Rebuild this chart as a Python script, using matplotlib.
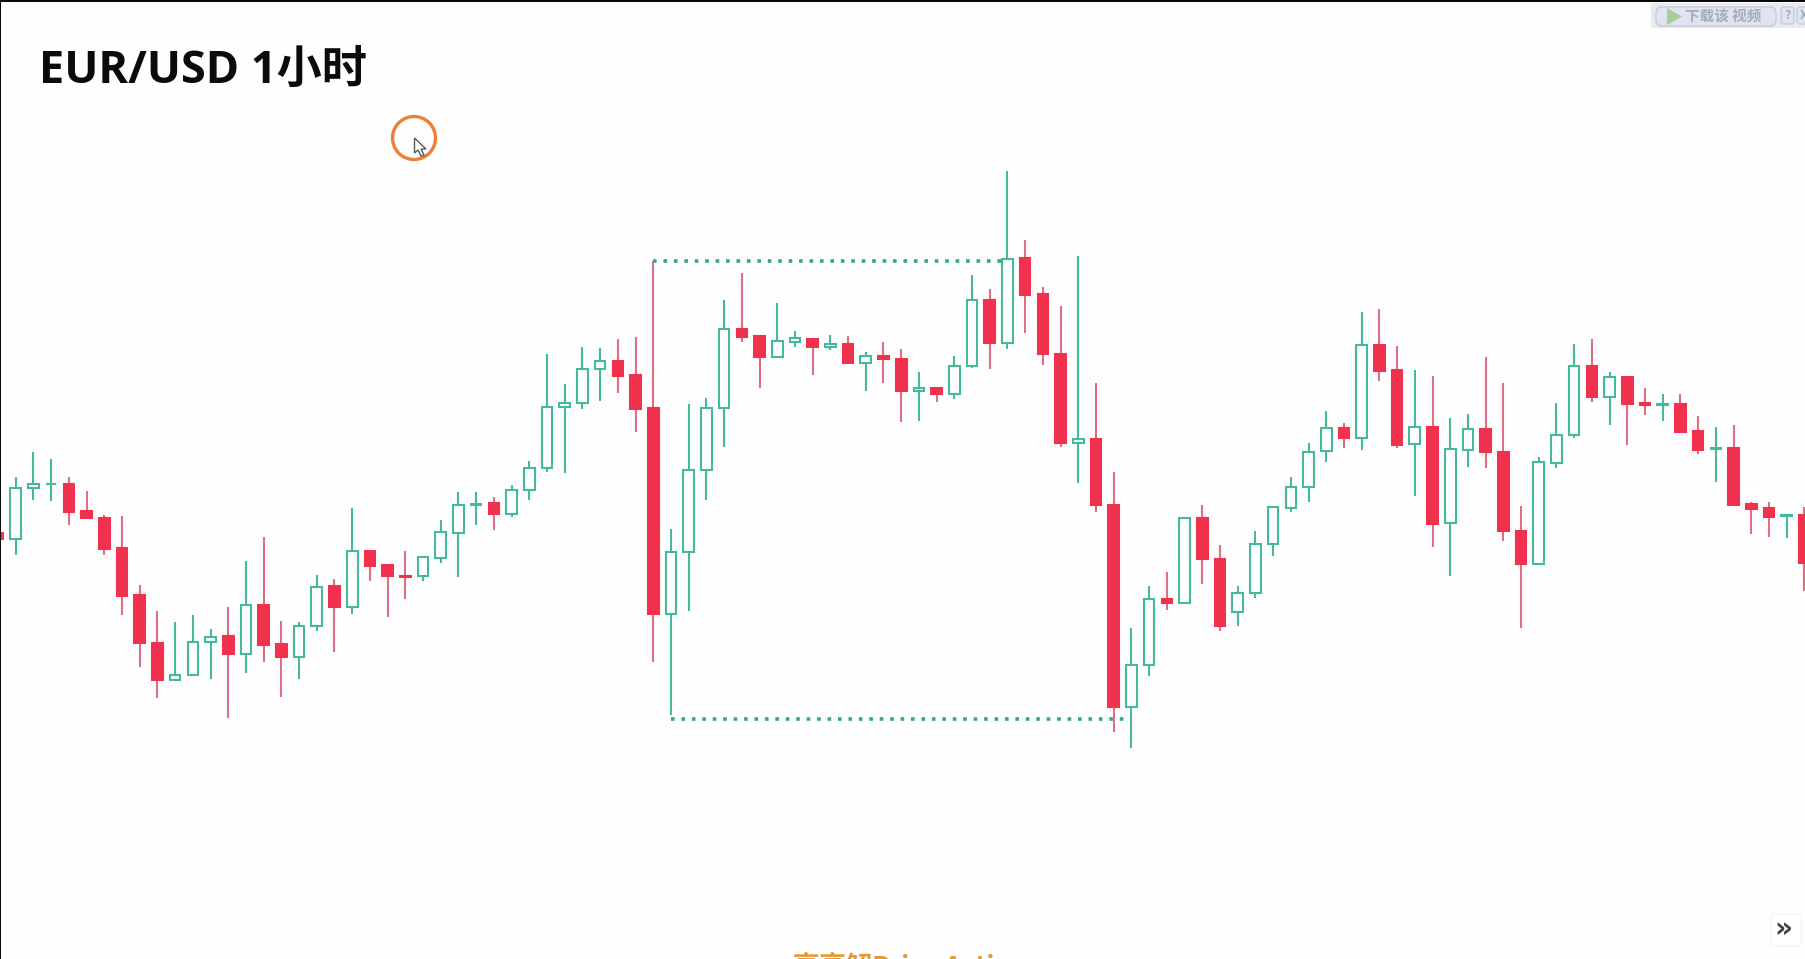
import numpy as np
import matplotlib.pyplot as plt
from matplotlib.patches import Circle, FancyBboxPatch, Polygon, Rectangle

plt.rcParams['font.family'] = ['Noto Sans CJK SC', 'DejaVu Sans']

# Candle values (price in pips above an arbitrary base)
opens = [467, 461, 512, 516, 516, 489, 482, 452, 405, 357, 320, 325, 358, 364, 346, 395, 356, 343, 374, 414,
         393, 449, 435, 424, 424, 442, 467, 495.5, 497, 486, 510, 532, 593, 597, 631, 639, 625, 592, 386, 448,
         530, 592, 671, 664, 643, 658, 661, 653, 656, 637, 644, 641, 609, 612, 606, 634, 700, 657, 742, 706,
         646, 557, 561, 495, 293, 335, 401, 397, 482, 441, 388, 407, 456, 492, 513, 549, 572, 562, 655, 630,
         556, 573, 477, 550, 571, 548, 469, 436, 537, 565, 634, 603, 623, 597, 595, 596, 569, 551, 552, 496,
         492, 484, 485]
highs = [467, 523, 548, 541, 523, 509, 485, 484, 415, 389, 378, 385, 371, 393, 439, 463, 379, 378, 425, 421,
         492, 449, 435, 449, 444, 480, 508, 508, 503, 515, 539, 646, 616, 653, 652, 661, 663, 739, 471, 596,
         602, 700, 727, 664, 697, 669, 661, 665, 664, 648, 658, 651, 628, 613, 644, 725, 711, 829, 760, 713,
         694, 744, 617, 528, 372, 414, 428, 483, 495, 455, 414, 469, 494, 523, 557, 589, 577, 688, 691, 654,
         630, 624, 582, 586, 643, 617, 494, 543, 597, 656, 661, 628, 623, 612, 606, 606, 584, 573, 575, 498,
         498, 485, 493]
lows = [461, 445, 500, 499, 475, 482, 445, 385, 333, 302, 320, 325, 321, 282, 327, 338, 303, 321, 369, 348,
        386, 419, 383, 401, 419, 437, 423, 475, 470, 483, 500, 528, 527, 591, 599, 607, 568, 338, 285, 389,
        500, 553, 658, 612, 642, 653, 625, 650, 637, 609, 617, 578, 579, 598, 601, 632, 631, 651, 667, 635,
        553, 517, 488, 268, 252, 324, 390, 396, 416, 369, 374, 402, 444, 488, 498, 538, 552, 550, 619, 552,
        504, 453, 424, 533, 532, 459, 372, 436, 532, 562, 598, 575, 555, 585, 579, 568, 546, 518, 495, 466,
        463, 462, 409]
closes = [461, 512, 516, 516.5, 488, 482, 451, 404, 357, 320, 325, 358, 363, 346, 395, 355, 343, 374, 413, 393,
          449, 434, 424, 423.5, 443, 468, 495, 496, 486, 510, 532, 593, 597, 631, 639, 624, 591, 386, 448, 530,
          592, 671, 663, 643, 659, 662, 653, 656, 637, 644, 641, 609, 612, 606, 634, 700, 657, 741, 705, 646,
          557, 561, 495, 293, 335, 401, 397, 482, 441, 374, 407, 456, 493, 513, 548, 572, 562, 655, 629, 555,
          573, 476, 551, 571, 548, 469, 436, 538, 565, 634, 603, 623, 596, 595, 596, 568, 550, 552, 495, 491,
          483, 485, 437]

# Dotted range lines: level, first candle, last candle
range_high = 739
range_high_span = [37, 56.7]
range_low = 281
range_low_span = [38, 64]

title = 'EUR/USD 1小时'
caption = '亮亮解Price Action'
button_label = '下载该 视频'

GREEN = '#45b99d'
RED = '#f1324e'
RED_WICK = '#df6f84'
BG = '#fefefe'

fig = plt.figure(figsize=(18.06, 9.59), dpi=100, facecolor=BG)

# Main chart: no axes at all in the picture
ax = fig.add_axes([0, 0, 1, 1])
ax.set_xlim(0.1125, 102.09)
ax.set_ylim(41, 1000)
ax.axis('off')

idx = np.arange(len(opens))
o = np.array(opens, dtype=float)
h = np.array(highs, dtype=float)
l = np.array(lows, dtype=float)
c = np.array(closes, dtype=float)
up = c >= o

ax.vlines(idx[up], l[up], h[up], color=GREEN, linewidth=1.5, zorder=2)
ax.vlines(idx[~up], l[~up], h[~up], color=RED_WICK, linewidth=1.5, zorder=2)
ax.bar(idx[up], (c - o)[up], bottom=o[up], width=0.6, facecolor='white',
       edgecolor=GREEN, linewidth=1.5, zorder=3)
ax.bar(idx[~up], (c - o)[~up], bottom=o[~up], width=0.6, facecolor=RED,
       edgecolor=RED, linewidth=1.5, zorder=3)

dots = (0, (1, 1.89))
ax.plot(range_high_span, [range_high, range_high], color='#2fa98a', linewidth=2.6,
        linestyle=dots, zorder=1)
ax.plot(range_low_span, [range_low, range_low], color='#2fa98a', linewidth=2.6,
        linestyle=dots, zorder=1)

# Screen furniture of the video, placed in pixels
ov = fig.add_axes([0, 0, 1, 1], facecolor='none')
ov.set_xlim(0, 1806)
ov.set_ylim(959, 0)
ov.axis('off')

ov.add_patch(Rectangle((0, 0), 1806, 2, color='#0a0a0a', lw=0))
ov.add_patch(Rectangle((0, 0), 1.2, 959, color='#0a0a0a', lw=0))

ov.text(39, 83, title, fontsize=32.5, fontweight='bold', color='#0b0b0b',
        family=['Open Sans', 'Noto Sans CJK SC'], va='baseline')

# recording cursor
ov.add_patch(Circle((414, 138), 21.5, fill=False, edgecolor='#ec7f3a', linewidth=2.4))
ov.add_patch(Polygon([(414.5, 138), (414.5, 153), (418, 150), (421, 156), (424, 155),
                      (421, 149), (426, 149)], closed=True, facecolor='white',
                     edgecolor='#555a60', linewidth=1))

# download button, top right
ov.add_patch(Rectangle((1651, 3), 155, 25, color='#e6eaf2', lw=0))
ov.add_patch(FancyBboxPatch((1656, 7), 120, 19, boxstyle='round,pad=0,rounding_size=6',
                            facecolor='#dfe4ee', edgecolor='#c3cbdb', linewidth=1))
ov.add_patch(Polygon([(1667, 8), (1667, 25), (1682, 16.5)], closed=True,
                     facecolor='#a6cf98', edgecolor='none'))
ov.text(1685, 16.5, button_label, fontsize=10.5, fontweight='bold', color='#a3acba',
        va='center')
for bx, mark in [(1781, '?'), (1797, 'X')]:
    ov.add_patch(FancyBboxPatch((bx, 7), 13, 17, boxstyle='round,pad=0,rounding_size=3',
                                facecolor='#dfe4ee', edgecolor='#c3cbdb', linewidth=1))
    ov.text(bx + 6.5, 15.5, mark, fontsize=9, fontweight='bold', color='#a3acba',
            ha='center', va='center')

# clipped orange caption at the bottom edge
ov.text(793, 975, caption, fontsize=19, fontweight='bold', color='#e8982f', va='baseline',
        family=['Noto Sans CJK SC', 'DejaVu Sans'])

# scroll button, bottom right
ov.add_patch(FancyBboxPatch((1771, 914), 30, 32, boxstyle='round,pad=0,rounding_size=4',
                            facecolor='white', edgecolor='#f6f6f6', linewidth=1.2))
ov.text(1783, 929, '»', fontsize=20, fontweight='bold', color='#3c4043', ha='center', va='center',
        family='DejaVu Sans')

fig.savefig('out.png', dpi=100, facecolor=BG)
